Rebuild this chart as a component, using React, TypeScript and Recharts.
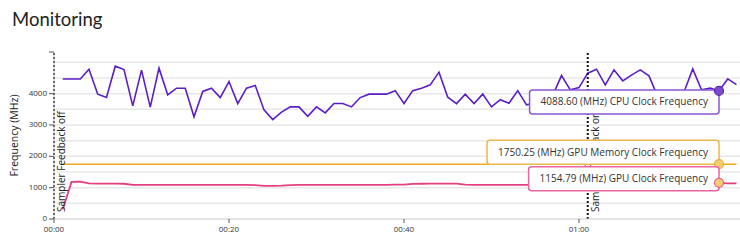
import React from 'react';
import {
  ComposedChart,
  Line,
  XAxis,
  YAxis,
  CartesianGrid,
  ReferenceLine,
  ReferenceDot,
} from 'recharts';

// seconds since capture start
const times = [
  1, 2, 3, 4, 5, 6, 7, 8, 9, 10, 11, 12, 13, 14, 15, 16, 17, 18, 19, 20,
  21, 22, 23, 24, 25, 26, 27, 28, 29, 30, 31, 32, 33, 34, 35, 36, 37, 38, 39, 40,
  41, 42, 43, 44, 45, 46, 47, 48, 49, 50, 51, 52, 53, 54, 55, 56, 57, 58, 59, 60,
  61, 62, 63, 64, 65, 66, 67, 68, 69, 70, 71, 72, 73, 74, 75, 76, 77, 78,
];

const cpuClock = [
  4470, 4470, 4470, 4780, 3985, 3876, 4878, 4770, 3610, 4750, 3570, 4815, 3960, 4175, 4175, 3260, 4070, 4175, 3876, 4387,
  3684, 4175, 4260, 3482, 3173, 3410, 3578, 3578, 3280, 3578, 3387, 3684, 3684, 3578, 3876, 3985, 3985, 3985, 4096, 3684,
  4096, 4175, 4281, 4687, 3888, 3684, 3985, 3684, 3985, 3578, 3808, 3697, 4096, 3642, 3700, 3900, 3950, 4578, 4121, 4195,
  4655, 4780, 4281, 4760, 4409, 4590, 4760, 4569, 3900, 3800, 3850, 4050, 4792, 4121, 4175, 4088.6, 4470, 4290,
];

const gpuMemClock = [
  1750.25, 1750.25, 1750.25, 1750.25, 1750.25, 1750.25, 1750.25, 1750.25, 1750.25, 1750.25, 1750.25, 1750.25, 1750.25,
  1750.25, 1750.25, 1750.25, 1750.25, 1750.25, 1750.25, 1750.25, 1750.25, 1750.25, 1750.25, 1750.25, 1750.25, 1750.25,
  1750.25, 1750.25, 1750.25, 1750.25, 1750.25, 1750.25, 1750.25, 1750.25, 1750.25, 1750.25, 1750.25, 1750.25, 1750.25,
  1750.25, 1750.25, 1750.25, 1750.25, 1750.25, 1750.25, 1750.25, 1750.25, 1750.25, 1750.25, 1750.25, 1750.25, 1750.25,
  1750.25, 1750.25, 1750.25, 1750.25, 1750.25, 1750.25, 1750.25, 1750.25, 1750.25, 1750.25, 1750.25, 1750.25, 1750.25,
  1750.25, 1750.25, 1750.25, 1750.25, 1750.25, 1750.25, 1750.25, 1750.25, 1750.25, 1750.25, 1750.25, 1750.25, 1750.25,
];

const gpuClock = [
  300, 1185, 1190, 1135, 1130, 1130, 1128, 1125, 1090, 1088, 1088, 1090, 1088, 1086, 1088, 1090, 1088, 1086, 1088, 1086,
  1088, 1086, 1080, 1060, 1058, 1062, 1080, 1086, 1088, 1086, 1090, 1088, 1086, 1088, 1090, 1092, 1090, 1092, 1095, 1100,
  1120, 1125, 1128, 1130, 1128, 1126, 1095, 1090, 1092, 1090, 1088, 1090, 1088, 1086, 1090, 1092, 1090, 1094, 1092, 1090,
  1095, 1092, 1090, 1094, 1096, 1092, 1090, 1094, 1092, 1090, 1096, 1100, 1110, 1120, 1130, 1154.79, 1140, 1140,
];

const xTicks = [0, 20, 40, 60];
const yTicks = [0, 1000, 2000, 3000, 4000, 5330];
const gridValues = [500, 1000, 1500, 2000, 2500, 3000, 3500, 4000, 4500, 5000];

const markers = [
  { t: 0, text: 'Sampler Feedback off' },
  { t: 61, text: 'Sampler Feedback on' },
];
const hoverTime = 76;

const CPU = '#5a1ec6';
const MEM = '#f0a81c';
const GPU = '#e4407f';
const FONT = '"Open Sans", "Noto Sans", sans-serif';

const data = times.map((t, i) => ({
  t,
  cpu: cpuClock[i],
  mem: gpuMemClock[i],
  gpu: gpuClock[i],
}));

const fmtTime = (s: number) => {
  const m = Math.floor(s / 60);
  const sec = s % 60;
  return `${String(m).padStart(2, '0')}:${String(sec).padStart(2, '0')}`;
};

let ctx: CanvasRenderingContext2D | null = null;
const textWidth = (s: string, font: string) => {
  if (!ctx) ctx = document.createElement('canvas').getContext('2d');
  if (!ctx) return s.length * 5;
  ctx.font = font;
  return ctx.measureText(s).width;
};

function MarkerLabel(props: any) {
  const { viewBox, text } = props;
  if (!viewBox) return null;
  const x = viewBox.x + 11;
  const y = viewBox.y + viewBox.height - 7;
  return (
    <text
      x={x}
      y={y}
      transform={`rotate(-90 ${x} ${y})`}
      fontSize={10}
      fontFamily={FONT}
      fill="#222"
    >
      {text}
    </text>
  );
}

function HoverTag(props: any) {
  const { cx, cy, text, line, border, dotFill, dotStroke, offsetY } = props;
  if (cx == null || cy == null) return null;
  const font = `10px ${FONT}`;
  const w = textWidth(text, font) + 22;
  const h = 24;
  const top = cy + offsetY;
  return (
    <g>
      <rect
        x={cx - w}
        y={top}
        width={w}
        height={h}
        rx={3}
        fill="#fff"
        stroke={border}
        strokeWidth={1.5}
      />
      <text
        x={cx - w / 2}
        y={top + h / 2 + 3.5}
        textAnchor="middle"
        fontSize={10}
        fontFamily={FONT}
        fill="#333"
      >
        {text}
      </text>
      <circle cx={cx} cy={cy} r={4.5} fill={dotFill} stroke={dotStroke ?? line} strokeWidth={1.2} />
    </g>
  );
}

export default function App() {
  const idx = times.indexOf(hoverTime);
  return (
    <div style={{ position: 'absolute', left: 0, top: 0, width: 740, height: 245, background: '#fff' }}>
      <div
        style={{
          position: 'absolute',
          left: 12,
          top: 8,
          fontFamily: 'Lato, sans-serif',
          fontSize: 18.5,
          lineHeight: '22px',
          color: '#222',
        }}
      >
        Monitoring
      </div>
      <div style={{ position: 'absolute', left: 0, top: 0 }}>
        <ComposedChart
          width={740}
          height={245}
          data={data}
          margin={{ top: 52, right: 0, left: 0, bottom: 0 }}
        >
          <CartesianGrid
            vertical={false}
            horizontalValues={gridValues}
            stroke="#e8e8e8"
            strokeWidth={1.5}
          />
          <XAxis
            dataKey="t"
            type="number"
            domain={[0, 78.4]}
            ticks={xTicks}
            tickFormatter={fmtTime}
            allowDataOverflow
            height={26}
            stroke="#c8c8c8"
            tickSize={4}
            tick={{ fontSize: 8, fontFamily: FONT, fill: '#333', dy: 1 }}
            tickLine={{ stroke: '#555' }}
          />
          <YAxis
            type="number"
            domain={[0, 5330]}
            ticks={yTicks}
            tickFormatter={(v: number) => (v % 1000 === 0 ? String(v) : '')}
            width={54}
            stroke="#c8c8c8"
            tickSize={5}
            tick={{ fontSize: 8, fontFamily: FONT, fill: '#333', dy: -1 }}
            tickLine={{ stroke: '#555' }}
            label={{
              value: 'Frequency (MHz)',
              angle: -90,
              position: 'insideLeft',
              offset: 14,
              style: { textAnchor: 'middle', fontSize: 10.5, fontFamily: FONT, fill: '#222' },
            }}
          />
          <Line
            dataKey="mem"
            stroke={MEM}
            strokeWidth={1.5}
            dot={false}
            isAnimationActive={false}
          />
          <Line
            dataKey="gpu"
            stroke={GPU}
            strokeWidth={1.8}
            dot={false}
            isAnimationActive={false}
          />
          <Line
            dataKey="cpu"
            stroke={CPU}
            strokeWidth={1.6}
            dot={false}
            isAnimationActive={false}
          />
          {markers.map((m) => (
            <ReferenceLine
              key={m.text}
              x={m.t}
              stroke="#111"
              strokeWidth={2}
              strokeDasharray="2 2"
              label={(p: any) => <MarkerLabel {...p} text={m.text} />}
            />
          ))}
          <ReferenceDot x={61} y={1680} r={3} fill="#fff" stroke={GPU} strokeWidth={1} />
          <ReferenceDot
            x={hoverTime}
            y={cpuClock[idx]}
            shape={(p: any) => (
              <HoverTag
                {...p}
                text={`${cpuClock[idx].toFixed(2)} (MHz) CPU Clock Frequency`}
                line={CPU}
                border="#8a55d8"
                dotFill="#7c4acb"
                dotStroke="#5a28b0"
                offsetY={-1}
              />
            )}
          />
          <ReferenceDot
            x={hoverTime}
            y={gpuMemClock[idx]}
            shape={(p: any) => (
              <HoverTag
                {...p}
                text={`${gpuMemClock[idx].toFixed(2)} (MHz) GPU Memory Clock Frequency`}
                line={MEM}
                border="#e9b84c"
                dotFill="#f3cd6e"
                dotStroke="#e5b040"
                offsetY={-24}
              />
            )}
          />
          <ReferenceDot
            x={hoverTime}
            y={gpuClock[idx]}
            shape={(p: any) => (
              <HoverTag
                {...p}
                text={`${gpuClock[idx].toFixed(2)} (MHz) GPU Clock Frequency`}
                line={GPU}
                border="#ea64a0"
                dotFill="#f3cd6e"
                dotStroke="#e8609a"
                offsetY={-16}
              />
            )}
          />
        </ComposedChart>
      </div>
    </div>
  );
}
